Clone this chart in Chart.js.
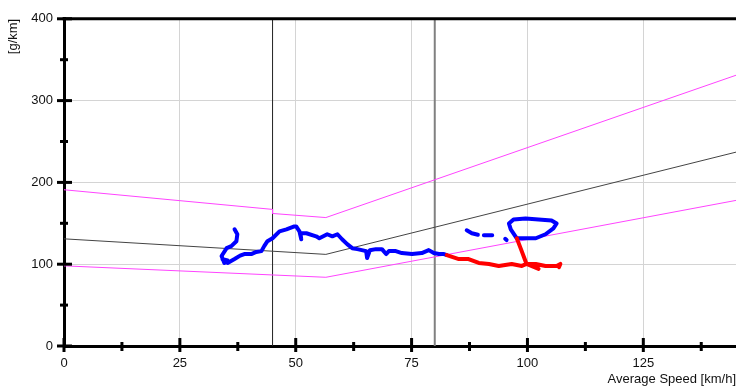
<!DOCTYPE html>
<html>
<head>
<meta charset="utf-8">
<script src="https://cdn.jsdelivr.net/npm/chart.js@4.4.1/dist/chart.umd.min.js"></script>
<style>
  html, body { margin: 0; padding: 0; background: #fff; }
  #wrap { width: 736px; height: 387px; }
</style>
</head>
<body>
<div id="wrap"><canvas id="chart" width="736" height="387"></canvas></div>
<script>
// --- data (speed km/h, emissions g/km) ---
const X_TICKS = { min: 0, max: 145, step: 12.5, labelEvery: 25 };
const Y_TICKS = { min: 0, max: 400, step: 50, labelEvery: 100 };

const upperLimit = [[0, 191], [45, 167], [45, 162], [56.5, 157], [145, 331]];
const lowerLimit = [[0, 98], [56.5, 84], [145, 178]];
const midLine    = [[0, 131], [56.5, 112], [145, 237]];
const markerSpeeds = [45, 80];

// blue trace (null = gap)
const blueTrace = [
  [36.8, 142.6], [37.4, 136.6], [37.2, 128.1], [36.1, 122.1], [35.1, 119.6],
  [34.0, 110.0], [34.6, 101.5], [35.3, 104.5], [34.2, 106.0], [35.3, 101.5],
  [36.8, 106.3], [38.0, 110.5], [38.9, 112.4], [40.4, 112.4], [41.5, 115.0],
  [42.6, 116.0], [43.2, 122.1], [43.9, 128.1], [45.0, 131.7], [46.5, 140.2],
  [48.0, 142.6], [49.7, 146.2], [50.1, 146.2], [50.8, 140.2], [51.2, 130.5],
  [51.0, 138.0], [52.3, 137.8], [54.4, 134.1], [55.1, 131.7], [56.8, 136.6],
  [57.9, 134.1], [59.0, 136.6], [60.0, 130.5], [61.1, 124.5], [62.2, 119.6],
  [63.3, 118.4], [65.2, 116.0], [65.4, 107.6], [66.0, 117.0], [67.3, 118.4],
  [68.6, 118.4], [69.5, 112.4], [70.1, 116.0], [71.6, 116.0], [72.9, 113.6],
  [75.1, 112.4], [77.2, 113.6], [78.7, 117.2], [79.8, 113.6], [80.9, 112.4],
  [82.0, 112.4], [82.6, 111.2],
  null,
  [86.9, 141.4], [88.0, 137.8], [89.3, 136.0],
  null,
  [90.6, 135.3], [92.4, 135.3],
  null,
  [95.2, 131.0], [95.5, 129.5],
  null,
  [97.7, 131.7], [96.4, 142.6], [96.0, 149.8], [97.0, 154.7], [99.6, 155.9],
  [102.4, 154.7], [105.2, 153.5], [106.3, 149.8], [105.6, 143.8], [103.9, 136.6],
  [101.8, 131.7], [99.8, 131.7], [98.8, 131.7], [97.7, 131.7]
];

// red trace (null = gap)
const redTrace = [
  [82.6, 111.2], [85.2, 106.3], [87.3, 106.3], [89.5, 101.5], [91.7, 100.3],
  [93.8, 97.9], [96.6, 100.3], [98.8, 97.9], [99.8, 100.3], [101.8, 100.3],
  [103.9, 97.9], [106.3, 97.9], [107.1, 100.3], [106.8, 96.5],
  null,
  [97.7, 131.7], [98.6, 118.4], [99.4, 106.3], [99.8, 100.3], [102.4, 94.3]
];

// --- helpers ---
const toPts = (arr) => arr.map(p => p ? { x: p[0], y: p[1] } : { x: null, y: null });
const vLine = (x) => [{ x: x, y: Y_TICKS.min }, { x: x, y: Y_TICKS.max }];
const FONT = { family: 'Liberation Sans, Arial, sans-serif', size: 13 };

const line = (data, color, width) => ({
  data, borderColor: color, backgroundColor: color, borderWidth: width,
  borderJoinStyle: 'round', borderCapStyle: 'round',
  showLine: true, pointRadius: 0, tension: 0, spanGaps: false
});

// plugin: top frame line + crossing tick marks (major / minor)
const axisDecor = {
  id: 'axisDecor',
  afterDraw(chart) {
    const { ctx, chartArea: a, scales } = chart;
    ctx.save();
    ctx.strokeStyle = '#000';
    ctx.lineWidth = 3;
    ctx.beginPath();
    ctx.moveTo(a.left - 1.5, a.top);
    ctx.lineTo(a.right, a.top);
    ctx.stroke();

    scales.x.ticks.forEach(t => {
      const px = scales.x.getPixelForValue(t.value);
      const major = t.value % X_TICKS.labelEvery === 0;
      ctx.beginPath();
      ctx.moveTo(px, a.bottom - (major ? 8 : 4));
      ctx.lineTo(px, a.bottom + (major ? 6 : 5));
      ctx.stroke();
    });
    scales.y.ticks.forEach(t => {
      const py = scales.y.getPixelForValue(t.value);
      const major = t.value % Y_TICKS.labelEvery === 0;
      ctx.beginPath();
      ctx.moveTo(a.left - (major ? 7 : 4), py);
      ctx.lineTo(a.left + (major ? 8 : 4), py);
      ctx.stroke();
    });
    ctx.restore();
  }
};

new Chart(document.getElementById('chart'), {
  type: 'scatter',
  data: {
    datasets: [
      line(toPts(redTrace), '#ff0000', 4),
      line(toPts(blueTrace), '#0000ff', 4),
      line(toPts(upperLimit), '#ff44ff', 1),
      line(toPts(lowerLimit), '#ff44ff', 1),
      line(toPts(midLine), '#444444', 1),
      line(vLine(markerSpeeds[0]), '#222222', 1),
      line(vLine(markerSpeeds[1]), '#808080', 2)
    ]
  },
  options: {
    responsive: false,
    animation: false,
    layout: { padding: { top: 15, left: 0, right: 0, bottom: 0 } },
    plugins: { legend: { display: false }, tooltip: { enabled: false } },
    scales: {
      x: {
        type: 'linear',
        min: X_TICKS.min, max: X_TICKS.max,
        ticks: {
          stepSize: X_TICKS.step, includeBounds: false, autoSkip: false, maxRotation: 0,
          callback: v => v % X_TICKS.labelEvery === 0 ? v : '',
          color: '#111', font: FONT, padding: 10
        },
        grid: {
          drawTicks: false,
          color: c => c.tick && c.tick.value % X_TICKS.labelEvery === 0 ? '#d4d4d4' : 'rgba(0,0,0,0)'
        },
        border: { color: '#000', width: 3 },
        title: {
          display: true, text: 'Average Speed [km/h]', align: 'end',
          color: '#111', font: FONT, padding: { top: 0, bottom: 0 }
        },
        afterFit: s => { s.height = 41; }
      },
      y: {
        type: 'linear',
        min: Y_TICKS.min, max: Y_TICKS.max,
        ticks: {
          stepSize: Y_TICKS.step, includeBounds: false, autoSkip: false,
          callback: v => v % Y_TICKS.labelEvery === 0 ? v : '',
          color: '#111', font: FONT, padding: 11
        },
        grid: {
          drawTicks: false,
          color: c => c.tick && c.tick.value % Y_TICKS.labelEvery === 0 ? '#d4d4d4' : 'rgba(0,0,0,0)'
        },
        border: { color: '#000', width: 3 },
        title: {
          display: true, text: '[g/km]', align: 'end',
          color: '#111', font: FONT, padding: { top: 6, bottom: 0 }
        },
        afterFit: s => { s.width = 64; }
      }
    }
  },
  plugins: [axisDecor]
});
</script>
</body>
</html>
